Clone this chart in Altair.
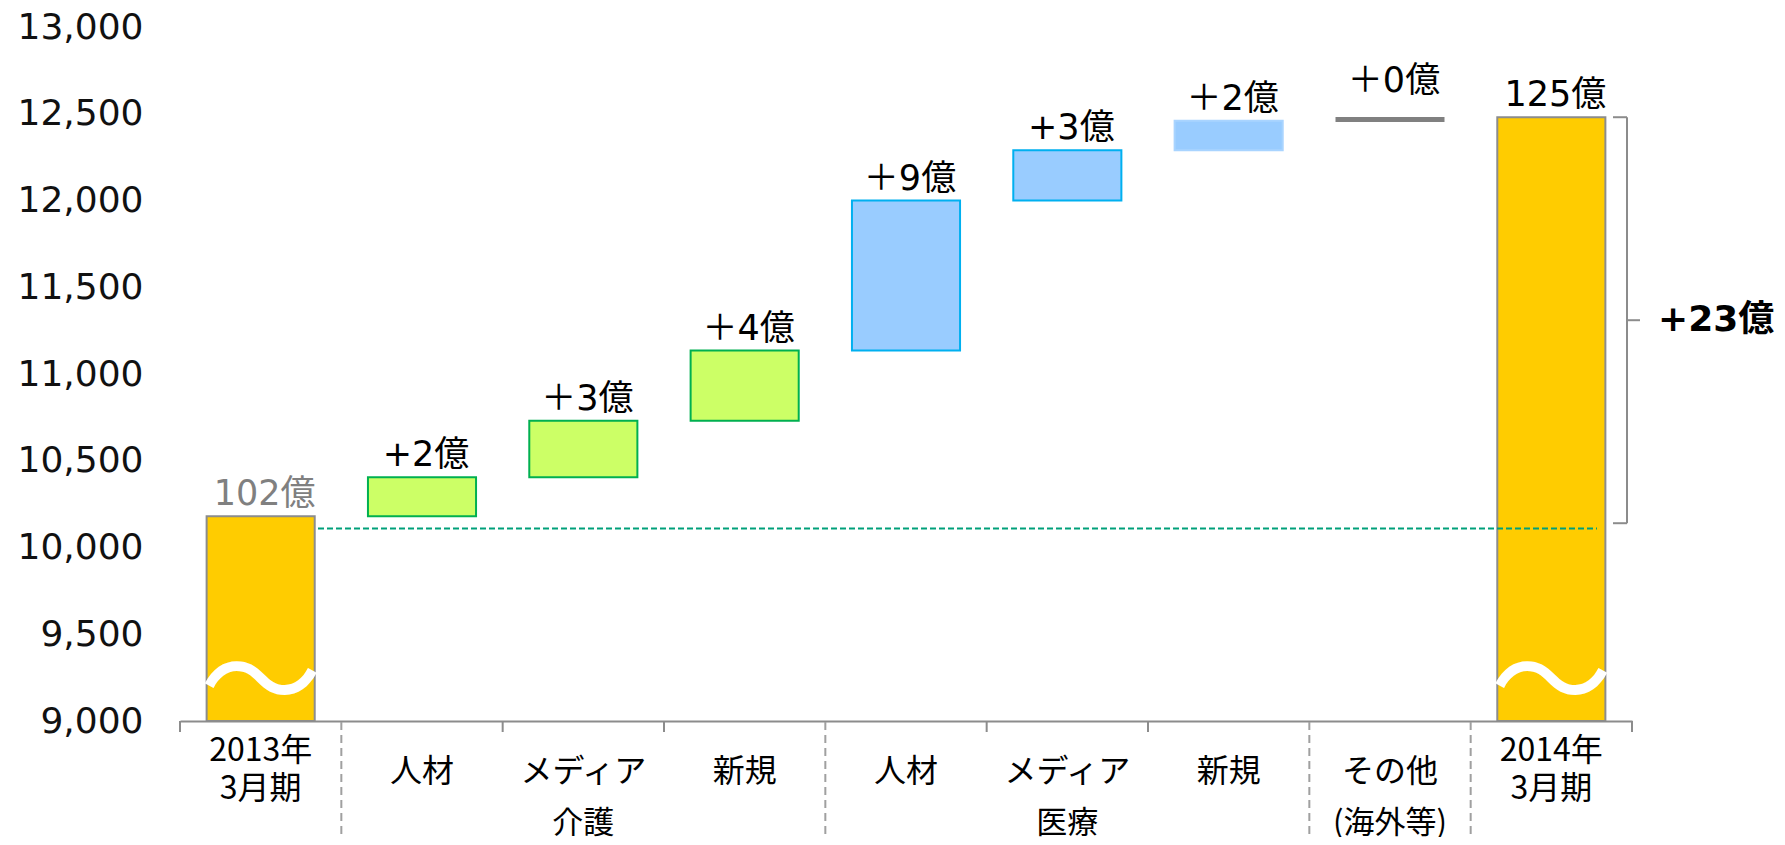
import altair as alt
import pandas as pd

# ---------------- data ----------------
categories = ["2013年3月期", "介護・人材", "介護・メディア", "介護・新規",
              "医療・人材", "医療・メディア", "医療・新規", "その他", "2014年3月期"]
segment = ["total", "kaigo", "kaigo", "kaigo", "iryo", "iryo", "iryo_soft", "other", "total"]
bar_low = [9000, 10180, 10405, 10730, 11135, 12000, 12290, 12467, 9000]
bar_high = [10180, 10405, 10730, 11135, 12000, 12290, 12460, 12467, 12480]
value_labels = ["102億", "+2億", "＋3億", "＋4億", "＋9億", "+3億", "＋2億", "＋0億", "125億"]

line_cats = ["介護・人材", "介護・メディア", "介護・新規", "医療・人材", "医療・メディア", "医療・新規", "その他"]
line_text = ["人材", "メディア", "新規", "人材", "メディア", "新規", "その他"]
period_cats = ["2013年3月期", "2014年3月期"]
period_line1 = ["2013年", "2014年"]
period_line2 = ["3月期", "3月期"]
group_cats = ["介護・メディア", "医療・メディア", "その他"]
group_text = ["介護", "医療", "(海外等)"]

tick_cats = ["2013年3月期", "介護・メディア", "介護・新規", "医療・メディア", "医療・新規"]
end_tick_cats = ["2014年3月期"]
divider_cats = ["介護・人材", "医療・人材", "その他", "2014年3月期"]

base_line = [10110]
bracket_top = [12480]
bracket_bottom = [10140]
total_label = ["+23億"]

y_ticks = [9000, 9500, 10000, 10500, 11000, 11500, 12000, 12500, 13000]

# ---------------- tables ----------------
bars = pd.DataFrame({"cat": categories, "seg": segment, "lo": bar_low,
                     "hi": bar_high, "label": value_labels})
lines_df = pd.DataFrame({"cat": line_cats, "text": line_text})
period_df = pd.DataFrame({"cat": period_cats, "l1": period_line1, "l2": period_line2})
group_df = pd.DataFrame({"cat": group_cats, "text": group_text})
tick_df = pd.DataFrame({"cat": tick_cats})
end_tick_df = pd.DataFrame({"cat": end_tick_cats})
div_df = pd.DataFrame({"cat": divider_cats})
base_df = pd.DataFrame({"v": base_line})
bracket_df = pd.DataFrame({"top": bracket_top, "bottom": bracket_bottom, "label": total_label})

LATIN = "DejaVu Sans, Noto Sans CJK JP"
CJK = "Noto Sans CJK JP"

xs = alt.Scale(domain=categories, paddingInner=0, paddingOuter=0)
x_axis = alt.Axis(labels=False, ticks=False, domain=True, domainColor="#8c8c8c",
                  domainWidth=2, grid=False, title=None)
ys = alt.Scale(domain=[9000, 13000], nice=False, zero=False)
y_axis = alt.Axis(values=y_ticks, format=",.0f", labelFont="DejaVu Sans", labelFontSize=36,
                  labelColor="#111111", domain=False, ticks=False, tickSize=0, grid=False,
                  labelPadding=37, title=None)


def xenc(band=None):
    if band is None:
        return alt.X("cat:N", scale=xs, axis=x_axis, sort=categories)
    return alt.X("cat:N", scale=xs, axis=x_axis, sort=categories, bandPosition=band)


def yenc(field):
    return alt.Y(field, scale=ys, axis=y_axis)


seg_domain = ["total", "kaigo", "iryo", "iryo_soft"]
fill_range = ["#FFCC00", "#CCFF66", "#99CCFF", "#99CCFF"]
stroke_range = ["#8c8c8c", "#00B050", "#00B0F0", "#a9d4ff"]

bar_layer = alt.Chart(bars).transform_filter(alt.datum.seg != "other").mark_bar(
    width=alt.RelativeBandSize(0.67), strokeWidth=2
).encode(
    x=xenc(), y=yenc("lo:Q"), y2="hi:Q",
    fill=alt.Fill("seg:N", scale=alt.Scale(domain=seg_domain, range=fill_range), legend=None),
    stroke=alt.Stroke("seg:N", scale=alt.Scale(domain=seg_domain, range=stroke_range), legend=None),
)

zero_layer = alt.Chart(bars).transform_filter(alt.datum.seg == "other").mark_tick(
    thickness=5, size=109, color="#808080", opacity=1
).encode(x=xenc(), y=yenc("hi:Q"))

wave_layer = alt.Chart(bars).transform_filter(alt.datum.seg == "total").mark_text(
    font=CJK, fontSize=122, color="white", baseline="middle"
).encode(x=xenc(), y=alt.value(660), text=alt.value("〜"))

value_layer = alt.Chart(bars).transform_filter(alt.datum.seg != "other").mark_text(
    font=LATIN, fontSize=35, baseline="alphabetic", dy=-11, dx=4
).encode(
    x=xenc(), y=yenc("hi:Q"), text="label:N",
    color=alt.condition(alt.datum.cat == categories[0], alt.value("#808080"), alt.value("#000000")),
)

zero_label_layer = alt.Chart(bars).transform_filter(alt.datum.seg == "other").mark_text(
    font=LATIN, fontSize=35, baseline="alphabetic", dy=-27, dx=4, color="#000000"
).encode(x=xenc(), y=yenc("hi:Q"), text="label:N")

base_layer = alt.Chart(base_df).mark_rule(
    color="#00A07A", strokeWidth=2, strokeDash=[6, 3]
).encode(y=yenc("v:Q"), x=alt.value(138), x2=alt.value(1417))

tick_layer = alt.Chart(tick_df).mark_rule(color="#8c8c8c", strokeWidth=2).encode(
    x=xenc(0), y=alt.value(694), y2=alt.value(705))
end_tick_layer = alt.Chart(end_tick_df).mark_rule(color="#8c8c8c", strokeWidth=2).encode(
    x=xenc(1), y=alt.value(694), y2=alt.value(705))
div_layer = alt.Chart(div_df).mark_rule(color="#a0a0a0", strokeWidth=2, strokeDash=[8, 5]).encode(
    x=xenc(0), y=alt.value(695), y2=alt.value(830))

line_layer = alt.Chart(lines_df).mark_text(font=CJK, fontSize=32, baseline="middle", color="#000000").encode(
    x=xenc(), y=alt.value(745), text="text:N")
period1_layer = alt.Chart(period_df).mark_text(font=CJK, fontSize=32, baseline="middle", color="#000000").encode(
    x=xenc(), y=alt.value(724), text="l1:N")
period2_layer = alt.Chart(period_df).mark_text(font=CJK, fontSize=32, baseline="middle", color="#000000").encode(
    x=xenc(), y=alt.value(762), text="l2:N")
group_layer = alt.Chart(group_df).mark_text(font=CJK, fontSize=31, baseline="middle", color="#000000").encode(
    x=xenc(), y=alt.value(797), text="text:N")

bracket_base = alt.Chart(bracket_df).transform_calculate(mid="(datum.top + datum.bottom) / 2")
br_vert = bracket_base.mark_rule(color="#8c8c8c", strokeWidth=2).encode(
    x=alt.value(1447), y=yenc("top:Q"), y2="bottom:Q")
br_top = bracket_base.mark_rule(color="#8c8c8c", strokeWidth=2).encode(
    x=alt.value(1433), x2=alt.value(1447), y=yenc("top:Q"))
br_bot = bracket_base.mark_rule(color="#8c8c8c", strokeWidth=2).encode(
    x=alt.value(1433), x2=alt.value(1447), y=yenc("bottom:Q"))
br_mid = bracket_base.mark_rule(color="#8c8c8c", strokeWidth=2).encode(
    x=alt.value(1447), x2=alt.value(1460), y=yenc("mid:Q"))
br_text = bracket_base.mark_text(font=LATIN, fontSize=36, fontWeight="bold", align="left",
                                 baseline="middle", color="#000000").encode(
    x=alt.value(1478), y=yenc("mid:Q"), text="label:N")

chart = alt.layer(
    bar_layer, zero_layer, wave_layer, base_layer, value_layer, zero_label_layer,
    tick_layer, end_tick_layer, div_layer,
    line_layer, period1_layer, period2_layer, group_layer,
    br_vert, br_top, br_bot, br_mid, br_text,
).properties(
    width=1452, height=694,
    autosize=alt.AutoSizeParams(type="none"),
    padding={"left": 172, "top": 19, "right": 145, "bottom": 116},
    background="white",
).configure_view(stroke=None)

chart.save("out.html", embed_options={"renderer": "svg", "actions": False})
